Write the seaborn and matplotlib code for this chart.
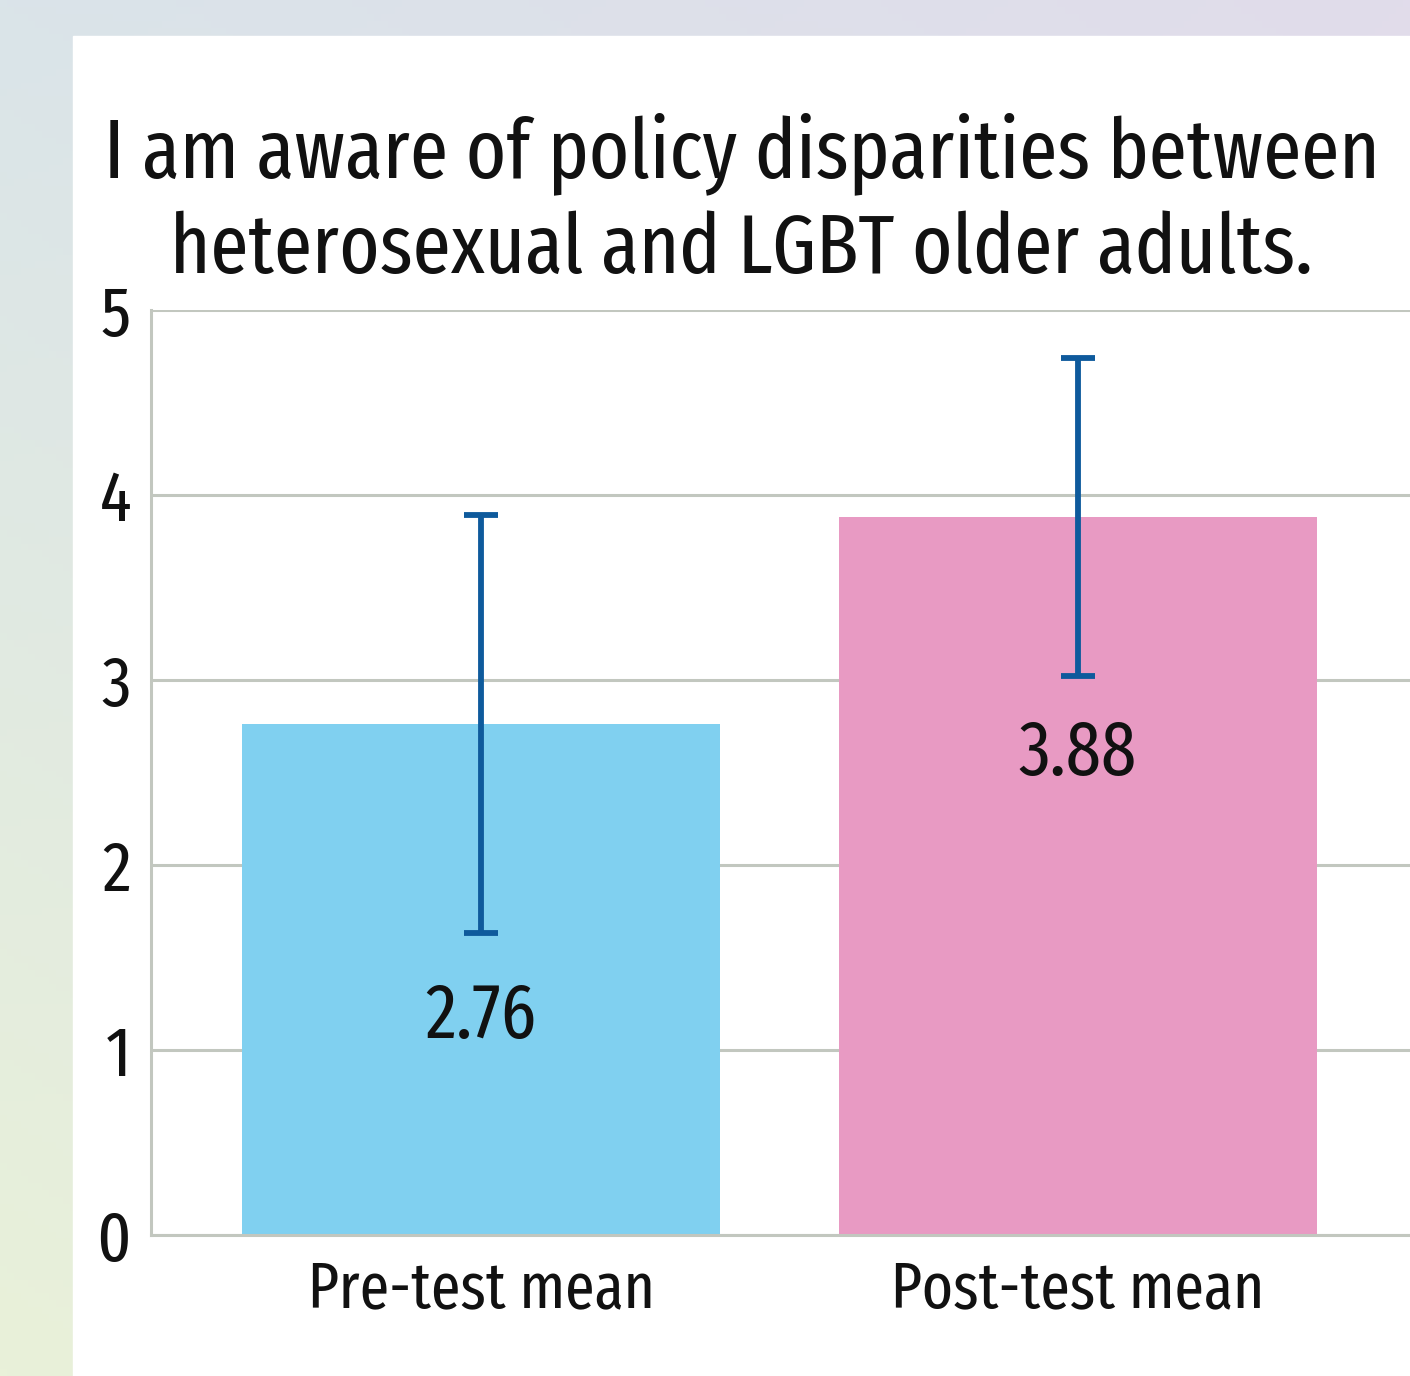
import os
import numpy as np
import pandas as pd
import matplotlib
matplotlib.use("Agg")
import matplotlib.pyplot as plt
from matplotlib import font_manager as fm
import seaborn as sns

# ---- data ----
categories = ["Pre-test mean", "Post-test mean"]
means = [2.76, 3.88]
errors = [1.13, 0.86]
value_labels = ["2.76", "3.88"]
label_baseline_y = [1.065, 2.486]
yticks = [0, 1, 2, 3, 4, 5]
title_lines = ["I am aware of policy disparities between",
               "heterosexual and LGBT older adults."]

bar_colors = ["#80d0f0", "#e89ac3"]
err_color = "#0e5a9c"
grid_color = "#c2c7bf"
text_color = "#111111"

sns.set_theme(style="white")


def pick_font():
    best, best_score = None, 1e9
    for f in fm.fontManager.ttflist:
        key = (f.name + " " + os.path.basename(f.fname)).lower()
        st = str(f.stretch).lower()
        if not ("condensed" in key or "narrow" in key or "condensed" in st or "narrow" in st):
            continue
        if f.style != "normal" or "[" in f.fname or "italic" in key or "oblique" in key:
            continue
        w = f.weight
        if not isinstance(w, (int, float)):
            w = fm.weight_dict.get(str(w).lower(), 400)
        score = abs(w - 380)
        both = key + " " + st
        if "extra" in both or "extracondensed" in both:
            score += 0
        elif "ultra" in both:
            score += 60
        elif "semi" in both:
            score += 90
        else:
            score += 30
        if "mono" in key or "serif" in key.replace("sans", ""):
            score += 300
        if score < best_score:
            best, best_score = f, score
    return best


_f = pick_font()
if _f is not None:
    def FP(size):
        return fm.FontProperties(fname=_f.fname, size=size)
else:
    def FP(size):
        return fm.FontProperties(family=["Liberation Sans", "DejaVu Sans"], size=size)

W, H = 1410, 1376
fig = plt.figure(figsize=(W / 100, H / 100), dpi=100)

# background gradient + white panel
bg = fig.add_axes([0, 0, 1, 1], zorder=-10)
tl = np.array([218, 228, 233]); tr = np.array([225, 220, 235])
bl = np.array([233, 241, 217]); br = np.array([232, 232, 228])
xs = np.linspace(0, 1, 200)[None, :, None]
ys = np.linspace(0, 1, 200)[:, None, None]
img = (tl * (1 - xs) * (1 - ys) + tr * xs * (1 - ys) + bl * (1 - xs) * ys + br * xs * ys) / 255.0
bg.imshow(img, extent=[0, 1, 0, 1], aspect="auto", origin="upper")
bg.add_patch(plt.Rectangle((73 / W, 0), 1 - 73 / W, 1 - 36 / H, color="white", transform=bg.transAxes))
bg.set_xlim(0, 1); bg.set_ylim(0, 1)
bg.axis("off")

# main axes
left = 151 / W
bottom = (H - 1235) / H
top = (H - 310) / H
ax = fig.add_axes([left, bottom, 1 - left, top - bottom])
ax.set_facecolor("none")

df = pd.DataFrame({"cat": categories, "mean": means})
sns.barplot(data=df, x="cat", y="mean", hue="cat", palette=bar_colors, legend=False,
            width=0.8, ax=ax, zorder=2, saturation=1, linewidth=0)

ax.errorbar(range(len(categories)), means, yerr=errors, fmt="none", ecolor=err_color,
            elinewidth=4.2, capsize=12.5, capthick=4.2, zorder=4)

val_texts = []
for i, (t, yy) in enumerate(zip(value_labels, label_baseline_y)):
    val_texts.append(ax.text(i, yy, t, ha="center", va="baseline", color=text_color,
                             fontproperties=FP(46), zorder=5))

ax.set_xlim(-0.5527, 1.556)
ax.set_ylim(0, 5)
ax.set_yticks(yticks)
ax.set_yticklabels([str(v) for v in yticks], color=text_color)
ax.set_xticks(range(len(categories)))
ax.set_xticklabels(categories, color=text_color)
ax.tick_params(axis="y", length=0, pad=14.4)
xpad = 10
ax.tick_params(axis="x", length=0, pad=xpad)
ax.set_xlabel("")
ax.set_ylabel("")

ax.yaxis.grid(True, color=grid_color, linewidth=2.2, zorder=1)
ax.set_axisbelow(True)
for s in ["top", "right"]:
    ax.spines[s].set_visible(False)
for s in ["left", "bottom"]:
    ax.spines[s].set_color(grid_color)
    ax.spines[s].set_linewidth(2.2)
    ax.spines[s].set_zorder(3)

title_texts = []
for line, base in zip(title_lines, [177, 273]):
    title_texts.append(fig.text(741.5 / W, 1 - base / H, line, ha="center", va="baseline",
                                color=text_color, fontproperties=FP(64)))

# ---- fit text sizes to the reference widths ----
fig.canvas.draw()
r = fig.canvas.get_renderer()


def width_of(t):
    return t.get_window_extent(r).width


ts = 64 * 1277 / width_of(title_texts[0])
for t in title_texts:
    t.set_fontproperties(FP(ts))

vs = 46 * 111 / width_of(val_texts[0])
for t in val_texts:
    t.set_fontproperties(FP(vs))

xl0 = ax.get_xticklabels()[0]
xl0.set_fontproperties(FP(47))
fig.canvas.draw()
ls = 47 * 347 / width_of(ax.get_xticklabels()[0])
for t in ax.get_xticklabels():
    t.set_fontproperties(FP(ls))
for t in ax.get_yticklabels():
    t.set_fontproperties(FP(ls * 1.1))

fig.canvas.draw()
lab = ax.get_xticklabels()[0]
bb = lab.get_window_extent(r)
_, _, d = r.get_text_width_height_descent("lp", lab.get_fontproperties(), ismath=False)
baseline = bb.y0 + d
target = H - 1307
xpad = max(0.0, xpad + (baseline - target) * 72 / 100)
ax.tick_params(axis="x", pad=xpad)

fig.savefig("out.png", dpi=100)
